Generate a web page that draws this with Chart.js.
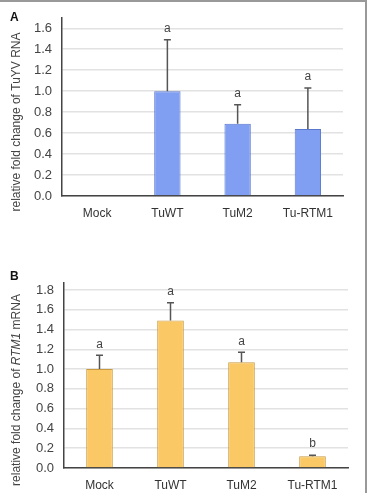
<!DOCTYPE html>
<html>
<head>
<meta charset="utf-8">
<script src="https://cdn.jsdelivr.net/npm/chart.js@4"></script>
<style>
  body { margin: 0; background: #fff; }
  #wrap { position: relative; width: 367px; height: 493px; overflow: hidden; font-family: "Liberation Sans", Arial, sans-serif; }
  #wrap:before { content: ""; position: absolute; left: 0; top: 0; right: 0; height: 2px; background: #999; }
  #wrap:after { content: ""; position: absolute; top: 0; bottom: 0; right: 0; width: 2px; background: #999; }
  .panel { position: absolute; left: 0; }
  .tag { position: absolute; left: 10px; font-weight: bold; font-size: 12px; color: #111; }
</style>
</head>
<body>
<div id="wrap">
  <canvas id="chartA" class="panel" width="367" height="240" style="top:0"></canvas>
  <canvas id="chartB" class="panel" width="367" height="248" style="top:245px"></canvas>
  <div class="tag" style="top:10px">A</div>
  <div class="tag" style="top:269px">B</div>
</div>
<script>
// categories shared by both panels
const categories = ["Mock", "TuWT", "TuM2", "Tu-RTM1"];

// panel A: TuYV RNA
const tuyvMeans = [0.006, 1.0, 0.69, 0.64];
const tuyvUpper = [null, 1.49, 0.87, 1.03];
const tuyvLetters = ["", "a", "a", "a"];
const tuyvTicks = [0, 0.2, 0.4, 0.6, 0.8, 1.0, 1.2, 1.4, 1.6];

// panel B: RTM1 mRNA
const rtm1Means = [1.0, 1.49, 1.07, 0.12];
const rtm1Upper = [1.14, 1.67, 1.17, 0.13];
const rtm1Letters = ["a", "a", "a", "b"];
const rtm1Ticks = [0, 0.2, 0.4, 0.6, 0.8, 1.0, 1.2, 1.4, 1.6, 1.8];

const FONT = "'Liberation Sans', Arial, sans-serif";

// error bars + significance letters + y title (mixed italic)
const extrasPlugin = {
  id: "extras",
  afterDatasetsDraw(chart, args, opts) {
    const ctx = chart.ctx;
    const x = chart.scales.x, y = chart.scales.y;
    ctx.save();
    opts.upper.forEach((u, i) => {
      const px = x.getPixelForValue(i);
      const base = y.getPixelForValue(chart.data.datasets[0].data[i]);
      let top = base;
      if (u !== null) {
        top = y.getPixelForValue(u);
        ctx.strokeStyle = "#555";
        ctx.lineWidth = 1.5;
        ctx.beginPath();
        ctx.moveTo(px, base);
        ctx.lineTo(px, top);
        ctx.moveTo(px - 3.5, top);
        ctx.lineTo(px + 3.5, top);
        ctx.stroke();
      }
      if (opts.letters[i]) {
        ctx.fillStyle = "#444";
        ctx.font = "12px " + FONT;
        ctx.textAlign = "center";
        ctx.textBaseline = "middle";
        ctx.fillText(opts.letters[i], px, top - 11);
      }
    });
    // rotated y title
    ctx.translate(opts.titleX, opts.titleY);
    ctx.rotate(-Math.PI / 2);
    ctx.fillStyle = "#444";
    ctx.textBaseline = "middle";
    const fonts = opts.title.map(p => (p.italic ? "italic " : "") + "12px " + FONT);
    let total = 0;
    opts.title.forEach((p, k) => { ctx.font = fonts[k]; total += ctx.measureText(p.text).width; });
    let cx = -total / 2;
    ctx.textAlign = "left";
    opts.title.forEach((p, k) => {
      ctx.font = fonts[k];
      ctx.fillText(p.text, cx, 0);
      cx += ctx.measureText(p.text).width;
    });
    ctx.restore();
  }
};

function makeChart(id, means, upper, letters, tickValues, fill, border, yMax, box, title) {
  new Chart(document.getElementById(id), {
    type: "bar",
    data: {
      labels: categories,
      datasets: [{
        data: means,
        backgroundColor: fill,
        borderColor: border,
        borderWidth: 1,
        barPercentage: 0.75,
        categoryPercentage: 0.5
      }]
    },
    options: {
      responsive: false,
      animation: false,
      layout: { padding: { top: box.top, right: box.right, left: 0, bottom: 0 } },
      plugins: {
        legend: { display: false },
        tooltip: { enabled: false },
        extras: { upper, letters, title, titleX: 17, titleY: box.titleY }
      },
      scales: {
        x: {
          grid: { display: false, drawTicks: false },
          border: { color: "#444", width: 1.5 },
          ticks: { color: "#333", padding: 10, font: { size: 12, family: FONT } },
          afterFit(scale) { scale.height = box.xHeight; }
        },
        y: {
          min: 0,
          max: yMax,
          grid: { color: "#e2e2e2", lineWidth: 1.5, drawTicks: false },
          border: { color: "#444", width: 1.5 },
          ticks: {
            color: "#444",
            padding: 10,
            font: { size: 13, family: FONT },
            callback: v => v.toFixed(1)
          },
          afterBuildTicks(scale) { scale.ticks = tickValues.map(v => ({ value: v })); },
          afterFit(scale) { scale.width = box.left; }
        }
      }
    },
    plugins: [extrasPlugin]
  });
}

makeChart("chartA", tuyvMeans, tuyvUpper, tuyvLetters, tuyvTicks, "#809ef2", "#5a78cc", 1.7,
  { top: 13, right: 24, left: 62, xHeight: 44, titleY: 122 },
  [{ text: "relative fold change of TuYV RNA" }]);

makeChart("chartB", rtm1Means, rtm1Upper, rtm1Letters, rtm1Ticks, "#fac966", "#c99a40", 1.87,
  { top: 38, right: 19, left: 64, xHeight: 25, titleY: 145 },
  [{ text: "relative fold change of " }, { text: "RTM1", italic: true }, { text: " mRNA" }]);
</script>
</body>
</html>
